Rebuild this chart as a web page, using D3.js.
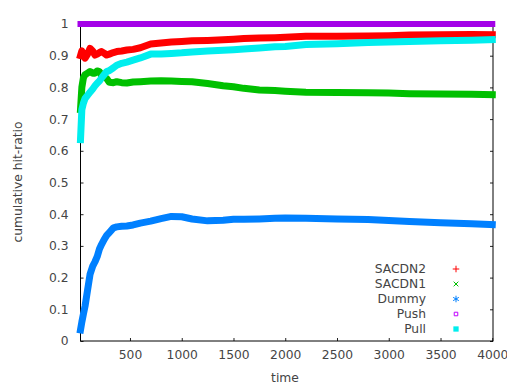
<!DOCTYPE html>
<html>
<head>
<meta charset="utf-8">
<script src="https://cdn.jsdelivr.net/npm/d3@7"></script>
<style>
  body { margin: 0; background: #fff; }
  text { font-family: "DejaVu Sans", sans-serif; font-size: 12.3px; fill: #444; }
</style>
</head>
<body>
<svg id="chart" width="507" height="387"></svg>
<script>
// time samples
const times = [22, 35, 50, 66, 90, 114, 140, 162, 183, 205, 226, 250, 275, 300, 340, 372, 420, 470, 530, 600,
               700, 800, 900, 1000, 1100, 1250, 1400, 1500, 1600, 1750, 1900, 2000, 2200, 2500, 2800, 3000, 3200, 3500, 3800, 4000];

const sacdn2 = [0.90, 0.915, 0.905, 0.892, 0.905, 0.923, 0.915, 0.902, 0.905, 0.91, 0.913, 0.908, 0.902, 0.905, 0.91, 0.913, 0.915, 0.918, 0.92, 0.925,
                0.937, 0.94, 0.943, 0.945, 0.947, 0.948, 0.95, 0.952, 0.954, 0.956, 0.957, 0.958, 0.961, 0.961, 0.962, 0.963, 0.965, 0.966, 0.967, 0.966];
const sacdn1 = [0.73, 0.80, 0.83, 0.84, 0.845, 0.85, 0.845, 0.845, 0.852, 0.85, 0.836, 0.834, 0.828, 0.816, 0.815, 0.818, 0.815, 0.814, 0.817, 0.818,
                0.82, 0.821, 0.82, 0.819, 0.818, 0.812, 0.805, 0.802, 0.797, 0.792, 0.79, 0.788, 0.785, 0.784, 0.783, 0.782, 0.78, 0.779, 0.778, 0.777];
const dummy  = [0.035, 0.06, 0.085, 0.11, 0.16, 0.21, 0.236, 0.25, 0.266, 0.29, 0.305, 0.32, 0.333, 0.342, 0.357, 0.36, 0.362, 0.363, 0.366, 0.372,
                0.378, 0.386, 0.393, 0.392, 0.385, 0.379, 0.381, 0.384, 0.384, 0.385, 0.387, 0.388, 0.387, 0.385, 0.383, 0.38, 0.377, 0.373, 0.37, 0.367];
const push   = times.map(() => 1.0);
const pull   = [0.635, 0.73, 0.75, 0.765, 0.775, 0.785, 0.795, 0.805, 0.813, 0.82, 0.83, 0.84, 0.85, 0.853, 0.862, 0.87, 0.876, 0.88, 0.886, 0.893,
                0.905, 0.905, 0.907, 0.909, 0.912, 0.915, 0.917, 0.919, 0.921, 0.924, 0.928, 0.929, 0.935, 0.938, 0.942, 0.943, 0.945, 0.947, 0.949, 0.951];

const seriesNames = ["SACDN2", "SACDN1", "Dummy", "Push", "Pull"];
const seriesColors = ["#ff0000", "#00c000", "#0080ff", "#a400e8", "#00eeee"];
const legendColors = ["#ff0000", "#00c000", "#0080ff", "#c000ff", "#00eeee"];
const xTicks = [500, 1000, 1500, 2000, 2500, 3000, 3500, 4000];
const yTicks = [0, 0.1, 0.2, 0.3, 0.4, 0.5, 0.6, 0.7, 0.8, 0.9, 1];

const svg = d3.select("#chart");
const x = d3.scaleLinear().domain([22, 4007]).range([80.5, 493]);
const y = d3.scaleLinear().domain([0, 1]).range([341, 24]);

const allSeries = [sacdn2, sacdn1, dummy, push, pull];

// axes with inward ticks
const xAxis = svg.append("g").attr("transform", "translate(0,341)")
  .call(d3.axisBottom(x).tickValues(xTicks).tickSize(-3).tickPadding(9).tickFormat(d3.format("d")));
const xTop = svg.append("g").attr("transform", "translate(0,24)")
  .call(d3.axisTop(x).tickValues(xTicks).tickSize(-3).tickFormat(""));
const yAxis = svg.append("g").attr("transform", "translate(80.5,0)")
  .call(d3.axisLeft(y).tickValues(yTicks).tickSize(-3).tickPadding(12).tickFormat(d => d === 0 || d === 1 ? d3.format("d")(d) : d3.format(".1f")(d)));
const yRight = svg.append("g").attr("transform", "translate(493,0)")
  .call(d3.axisRight(y).tickValues(yTicks).tickSize(-3).tickFormat(""));

[xAxis, xTop, yAxis, yRight].forEach(a => {
  a.select(".domain").remove();
  a.selectAll(".tick line").attr("stroke", "#222");
  a.selectAll("text").attr("font-size", null).attr("font-family", null).attr("fill", null);
});

svg.append("rect")
  .attr("x", 80.5).attr("y", 24).attr("width", 493 - 80.5).attr("height", 341 - 24)
  .attr("fill", "none").attr("stroke", "#000").attr("stroke-width", 1);

const line = d3.line().x((d, i) => x(times[i])).y(d => y(d));

svg.append("g").selectAll("path")
  .data(allSeries)
  .join("path")
    .attr("d", d => line(d))
    .attr("fill", "none")
    .attr("stroke", (d, i) => seriesColors[i])
    .attr("stroke-width", (d, i) => i === 3 ? 6 : 7)
    .attr("stroke-linejoin", "round")
    .attr("stroke-linecap", "square");

// legend
const symbols = [d3.symbolPlus, d3.symbolTimes, d3.symbolAsterisk, d3.symbolSquare2, d3.symbolSquare];
const symSizes = [16, 16, 30, 16, 28];
const legend = svg.append("g").selectAll("g")
  .data(seriesNames)
  .join("g")
    .attr("transform", (d, i) => `translate(0,${269 + i * 15})`);

legend.append("text")
  .attr("x", 426).attr("dy", "0.35em")
  .attr("text-anchor", "end")
  .text(d => d);

legend.append("path")
  .attr("transform", "translate(456,0)")
  .attr("d", (d, i) => d3.symbol(symbols[i], symSizes[i])())
  .attr("fill", (d, i) => i === 4 ? legendColors[i] : "none")
  .attr("stroke", (d, i) => i === 4 ? "none" : legendColors[i])
  .attr("stroke-width", 1);

// axis titles
svg.append("text")
  .attr("x", 285).attr("y", 382)
  .attr("text-anchor", "middle")
  .text("time");

svg.append("text")
  .attr("transform", "translate(22,182) rotate(-90)")
  .attr("text-anchor", "middle")
  .text("cumulative hit-ratio");
</script>
</body>
</html>
